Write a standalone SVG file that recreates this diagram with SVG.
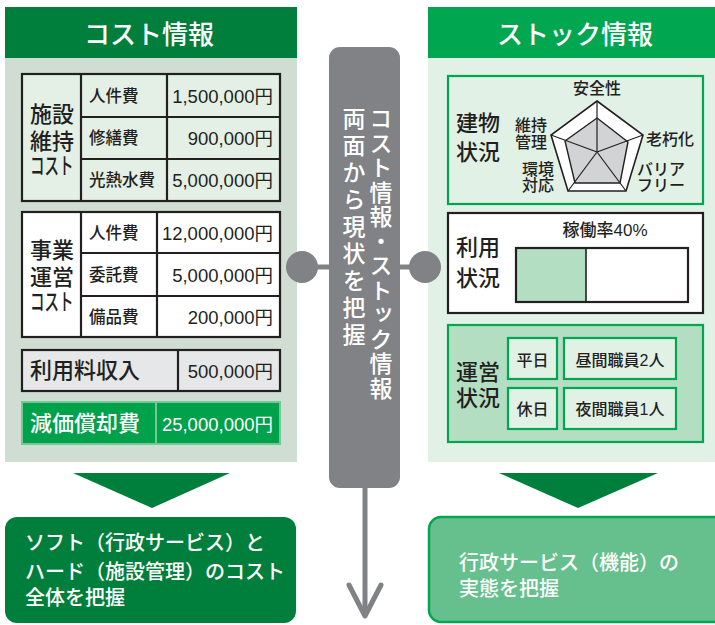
<svg xmlns="http://www.w3.org/2000/svg" width="715" height="625" viewBox="0 0 715 625">
<style>
text{font-family:"Liberation Sans","Noto Sans CJK JP",sans-serif;fill:#231f20;font-weight:500}
.w{fill:#fff}
.hd{font-size:26px;text-anchor:middle}
.lbl{font-size:22px}
.kt{font-size:23px}
.cell{font-size:16.5px}
.num{font-size:18.5px;text-anchor:end;font-weight:400}
.rl{font-size:16px}
.mid{text-anchor:middle}
.frame{stroke:#231f20;stroke-width:2.2}
.g{stroke:#00a650;stroke-width:2.2}
.vt{font-size:23px;writing-mode:vertical-rl;fill:#fff}
.bt{font-size:20px;fill:#fff}
</style>
<rect width="715" height="625" fill="#fff"/>
<g id="cost-panel">
<rect x="5" y="58" width="292" height="404" fill="#cfddd2"/>
<rect x="5" y="7" width="292" height="51" fill="#007f3c"/>
<text class="hd w" x="149" y="44">コスト情報</text>
</g>
<g id="facility-cost">
<rect x="22" y="74" width="258" height="127" fill="#e4f0e6" class="frame"/>
<path d="M81 74V201M167 74V201M81 117H280M81 159H280" fill="none" class="frame"/>
<text class="lbl" x="30" y="122">施設</text>
<text class="lbl" x="30" y="149">維持</text>
<text class="kt" transform="translate(30,174) scale(0.63,1)">コスト</text>
<text class="cell" x="89" y="102">人件費</text>
<text class="cell" x="89" y="144">修繕費</text>
<text class="cell" x="89" y="186">光熱水費</text>
<text class="num" x="273" y="103">1,500,000円</text>
<text class="num" x="273" y="145">900,000円</text>
<text class="num" x="273" y="187">5,000,000円</text>
</g>
<g id="operation-cost">
<rect x="22" y="212" width="258" height="125" fill="#fff" class="frame"/>
<path d="M81 212V337M157 212V337M81 253H280M81 296H280" fill="none" class="frame"/>
<text class="lbl" x="30" y="258">事業</text>
<text class="lbl" x="30" y="285">運営</text>
<text class="kt" transform="translate(30,310) scale(0.63,1)">コスト</text>
<text class="cell" x="89" y="239">人件費</text>
<text class="cell" x="89" y="281">委託費</text>
<text class="cell" x="89" y="323">備品費</text>
<text class="num" x="273" y="240">12,000,000円</text>
<text class="num" x="273" y="282">5,000,000円</text>
<text class="num" x="273" y="324">200,000円</text>
</g>
<g id="usage-fee">
<rect x="22" y="350" width="258" height="41" fill="#e6e7e8" class="frame"/>
<path d="M178 350V391" class="frame"/>
<text class="lbl" x="30" y="378">利用料収入</text>
<text class="num" x="273" y="378">500,000円</text>
</g>
<g id="depreciation">
<rect x="22" y="402" width="258" height="42" fill="#00a14b" stroke="#74c896" stroke-width="2"/>
<path d="M156 402V444" stroke="#74c896" stroke-width="2"/>
<text class="lbl w" x="30" y="431">減価償却費</text>
<text class="num w" x="273" y="431">25,000,000円</text>
</g>
<g id="stock-panel">
<rect x="428" y="58" width="287" height="404" fill="#e2f1e6"/>
<rect x="428" y="7" width="287" height="51" fill="#00a650"/>
<text class="hd w" x="575" y="44">ストック情報</text>
</g>
<g id="building-status">
<rect x="448" y="76" width="255" height="128" fill="#e2f1e6" class="g"/>
<text class="lbl" x="456" y="131">建物</text>
<text class="lbl" x="456" y="160">状況</text>
<polygon points="597,101 643,135 626,191 568,191 551,135" fill="#fff" stroke="#231f20" stroke-width="1.6"/>
<polygon points="597,118 628,142 620,183 575,183 565,141" fill="#d1d3d4" stroke="#231f20" stroke-width="1.4"/>
<path d="M597 152L597 101M597 152L643 135M597 152L626 191M597 152L568 191M597 152L551 135" stroke="#231f20" stroke-width="1.2" fill="none"/>
<text class="rl mid" x="597" y="94">安全性</text>
<text class="rl" x="646" y="145">老朽化</text>
<text class="rl" x="637" y="175">バリア</text>
<text class="rl" x="637" y="191">フリー</text>
<text class="rl" x="515" y="131">維持</text>
<text class="rl" x="515" y="148">管理</text>
<text class="rl" x="522" y="175">環境</text>
<text class="rl" x="522" y="191">対応</text>
</g>
<g id="usage-status">
<rect x="448" y="213" width="255" height="100" fill="#fff" class="frame"/>
<text class="lbl" x="456" y="255">利用</text>
<text class="lbl" x="456" y="286">状況</text>
<text class="mid" x="605" y="236" style="font-size:17px">稼働率40%</text>
<rect x="516" y="248" width="70" height="54" fill="#b3dec2"/>
<rect x="516" y="248" width="172" height="54" fill="none" class="frame"/>
<path d="M586 248V302" stroke="#231f20" stroke-width="1.6"/>
</g>
<g id="operation-status">
<rect x="448" y="325" width="255" height="117" fill="#b3dec2" class="g"/>
<text class="lbl" x="456" y="380">運営</text>
<text class="lbl" x="456" y="406">状況</text>
<rect x="508" y="338" width="49" height="41" fill="#e2f1e6" class="g"/>
<rect x="564" y="338" width="112" height="41" fill="#e2f1e6" class="g"/>
<rect x="508" y="388" width="49" height="41" fill="#e2f1e6" class="g"/>
<rect x="564" y="388" width="112" height="41" fill="#e2f1e6" class="g"/>
<text class="rl mid" x="532.5" y="366">平日</text>
<text class="rl mid" x="620" y="366">昼間職員2人</text>
<text class="rl mid" x="532.5" y="415">休日</text>
<text class="rl mid" x="620" y="415">夜間職員1人</text>
</g>
<g id="center-bar">
<rect x="329" y="47" width="71" height="441" rx="11" fill="#808285"/>
<text class="vt" x="379" y="107" style="letter-spacing:1.5px">コスト情報・ストック情報</text>
<text class="vt" x="352" y="107" style="letter-spacing:4px">両面から現状を把握</text>
</g>
<g id="cost-result">
<rect x="5" y="517" width="291" height="106" rx="12" fill="#007f3c"/>
<text class="bt" x="25" y="550">ソフト（行政サービス）と</text>
<text class="bt" x="25" y="579">ハード（施設管理）のコスト</text>
<text class="bt" x="25" y="605">全体を把握</text>
</g>
<g id="stock-result">
<rect x="429" y="517" width="300" height="105" rx="12" fill="#66c08d" stroke="#00a650" stroke-width="2.5"/>
<text class="bt" x="459" y="570">行政サービス（機能）の</text>
<text class="bt" x="459" y="596">実態を把握</text>
</g>
<g id="connectors">
<path d="M302 267H329M400 267H425" stroke="#808285" stroke-width="5"/>
<circle cx="302" cy="267" r="16" fill="#808285"/>
<circle cx="425" cy="267" r="16" fill="#808285"/>
<path d="M365 488V616" stroke="#808285" stroke-width="5"/>
<polyline points="349,585 365,616 381,585" fill="none" stroke="#808285" stroke-width="5" stroke-linecap="round" stroke-linejoin="round"/>
<polygon points="73,473 230,473 152,508" fill="#007f3c"/>
<polygon points="499,473 658,473 578,508" fill="#007f3c"/>
</g>
</svg>
